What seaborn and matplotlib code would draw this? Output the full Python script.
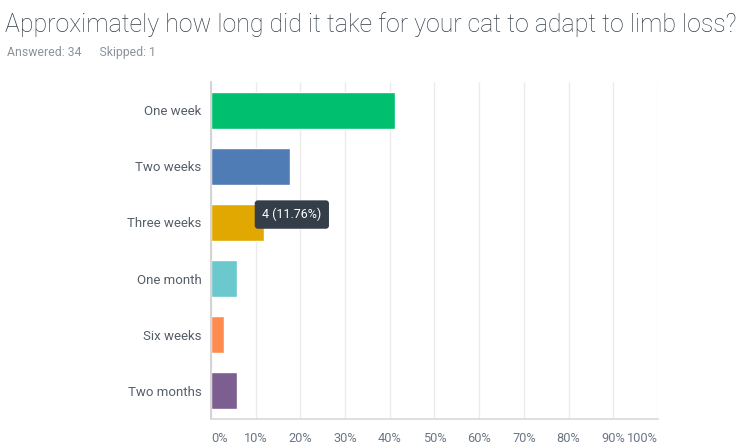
import matplotlib
matplotlib.use('Agg')
import matplotlib.pyplot as plt
import seaborn as sns
import pandas as pd

# Survey answers (34 answered)
choices = ['One week', 'Two weeks', 'Three weeks', 'One month', 'Six weeks', 'Two months']
counts = [14, 6, 4, 2, 1, 2]
answered = 34
skipped = 1
colors = ['#00BF6F', '#507CB6', '#E0A800', '#6BC8CD', '#FF8B4F', '#7D5E90']
ticks = [0, 10, 20, 30, 40, 50, 60, 70, 80, 90, 100]

df = pd.DataFrame({'choice': choices, 'count': counts})
df['pct'] = df['count'] / answered * 100

sns.set_theme(style='white')
plt.rcParams['font.family'] = ['Roboto', 'DejaVu Sans']

fig = plt.figure(figsize=(7.4, 4.47), dpi=100)
ax = fig.add_axes([0.2851, 0.0626, 0.6041, 0.754])

sns.barplot(data=df, x='pct', y='choice', hue='choice', palette=colors,
            legend=False, width=0.66, ax=ax, saturation=1)

ax.set_xlim(0, 100)
ax.set_xticks(ticks)
labels = ax.set_xticklabels([f'{t}%' for t in ticks])
labels[0].set_ha('left')
labels[-1].set_ha('right')
ax.tick_params(axis='x', colors='#6B7785', labelsize=9.2, length=0, pad=9)
ax.tick_params(axis='y', colors='#555E69', labelsize=9.5, length=0, pad=7)
ax.set_xlabel('')
ax.set_ylabel('')
ax.grid(axis='x', color='#EBEBEB', linewidth=1)
ax.set_axisbelow(True)
for s in ['top', 'right']:
    ax.spines[s].set_visible(False)
ax.spines['left'].set_color('#CFCFCF')
ax.spines['bottom'].set_color('#DADADA')

# tooltip on the "Three weeks" bar
i = 2
ax.text(df['pct'][i] - 0.3, i - 0.14, f"{counts[i]} ({df['pct'][i]:.2f}%)",
        color='white', fontsize=9, ha='left', va='center',
        bbox=dict(boxstyle='round,pad=0.6,rounding_size=0.25', fc='#333E48', ec='none'))

fig.text(0.007, 0.945, 'Approximately how long did it take for your cat to adapt to limb loss?',
         fontsize=17.9, color='#333E48', fontweight='light', va='center')
fig.text(0.009, 0.882, f'Answered: {answered}      Skipped: {skipped}',
         fontsize=8.8, color='#8A939C', va='center')

fig.savefig('out.png', dpi=100)
